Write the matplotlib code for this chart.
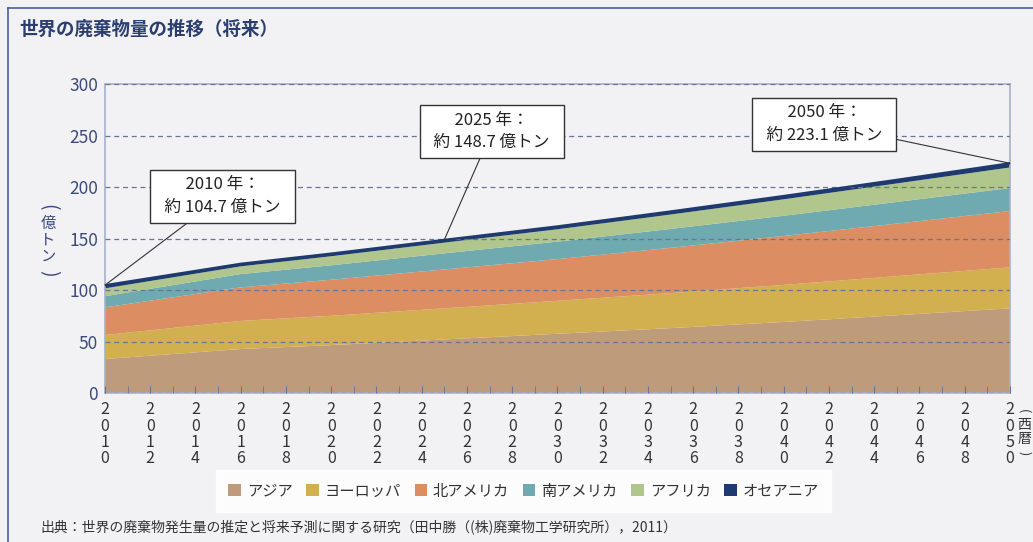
import matplotlib.pyplot as plt
from matplotlib.lines import Line2D

plt.rcParams['font.family'] = ['Noto Sans CJK JP', 'DejaVu Sans']

# data (億トン)
years = [2010, 2016, 2020, 2025, 2030, 2035, 2040, 2045, 2050]
asia = [33.0, 42.7, 46.5, 52.0, 57.5, 63.0, 69.0, 75.5, 82.2]
europe = [23.3, 27.3, 28.5, 30.2, 32.0, 34.0, 36.0, 38.0, 39.8]
n_america = [26.9, 32.6, 35.0, 37.8, 40.5, 44.0, 47.5, 51.0, 54.7]
s_america = [10.8, 12.9, 14.0, 15.6, 17.0, 18.3, 19.6, 21.0, 22.3]
africa = [7.6, 7.5, 8.8, 10.4, 12.0, 14.0, 16.0, 18.0, 20.0]
oceania = [3.1, 2.5, 2.6, 2.7, 2.8, 3.0, 3.2, 3.5, 4.1]

series_names = ['アジア', 'ヨーロッパ', '北アメリカ', '南アメリカ', 'アフリカ', 'オセアニア']
colors = ['#be9b7a', '#d2b050', '#dc8e62', '#6eaaaf', '#b0c68c', '#1e3a6e']

notes = [(2010, '2010 年：', '約 104.7 億トン', (2015.2, 191)),
         (2025, '2025 年：', '約 148.7 億トン', (2027.1, 254)),
         (2050, '2050 年：', '約 223.1 億トン', (2041.8, 261))]

bg = '#f2f2f5'
fig = plt.figure(figsize=(10.33, 5.42), dpi=100, facecolor=bg)
ax = fig.add_axes([0.1016, 0.2749, 0.876, 0.570], facecolor=bg)

stacks = ax.stackplot(years, asia, europe, n_america, s_america, africa, oceania,
                      colors=colors, labels=series_names, linewidth=0, zorder=2)
total = [sum(v) for v in zip(asia, europe, n_america, s_america, africa, oceania)]
ax.plot(years, total, color=colors[5], lw=1.6, zorder=3)

ax.set_xlim(2010, 2050)
ax.set_ylim(0, 300)
ax.set_yticks(range(0, 301, 50))
ax.yaxis.grid(True, ls=(0, (4, 3)), color='#6a7496', lw=0.9, zorder=4)
ax.set_axisbelow(False)
ax.tick_params(axis='y', length=0, pad=5, labelsize=12.5, labelcolor='#3c4a7a')

ax.set_xticks(range(2010, 2051, 2))
ax.set_xticks(range(2010, 2051), minor=True)
ax.set_xticklabels(['\n'.join(str(y)) for y in range(2010, 2051, 2)],
                   fontsize=11.5, color='#333333', linespacing=0.95)
ax.tick_params(axis='x', which='both', direction='in', length=5,
               color='#6a7496', pad=6)

for s in ax.spines.values():
    s.set_color('#a8b0c8')
    s.set_linewidth(1.2)

for yr, l1, l2, pos in notes:
    idx = years.index(yr)
    ax.annotate('  ' + l1 + '  \n  ' + l2 + '  ', xy=(yr, total[idx]), xytext=pos,
                ha='center', va='center', fontsize=12, color='#222222',
                linespacing=1.45, zorder=6,
                bbox=dict(boxstyle='square,pad=0.4', fc='white', ec='#333333', lw=1),
                arrowprops=dict(arrowstyle='-', color='#333333', lw=0.8,
                                shrinkA=0, shrinkB=0), annotation_clip=False)


# vertical (tategaki) captions, one character per position
def tategaki(x, y_top, chars, step, color, size, paren_size):
    for i, ch in enumerate(chars):
        y = y_top - i * step
        if ch in '()':
            fig.text(x, y, ch, rotation=-90, ha='center', va='center',
                     fontsize=paren_size, color=color)
        else:
            fig.text(x, y, ch, ha='center', va='center', fontsize=size, color=color)


tategaki(48 / 1033, 1 - 207 / 542, ['(', '億', 'ト', 'ン', ')'],
         16.5 / 542, '#3c4a7a', 11, 14)
tategaki(1024 / 1033, 1 - 411 / 542, ['(', '西', '暦', ')'],
         14 / 542, '#333333', 10, 9)

fig.text(0.019, 0.945, '世界の廃棄物量の推移（将来）', fontsize=13.3,
         fontweight='bold', color='#2c3e6e', va='center')

leg = fig.legend(stacks, series_names, loc='center', bbox_to_anchor=(0.507, 0.094),
                 ncol=6, frameon=True, fontsize=11, handlelength=0.8, handleheight=0.8,
                 handletextpad=0.4, columnspacing=0.9, borderpad=0.5)
leg.get_frame().set_facecolor('white')
leg.get_frame().set_edgecolor('white')
leg.get_frame().set_boxstyle('square')
for t in leg.get_texts():
    t.set_color('#333333')

fig.text(0.039, 0.028, '出典：世界の廃棄物発生量の推定と将来予測に関する研究（田中勝（(株)廃棄物工学研究所），2011）',
         fontsize=10, color='#333333', va='center')

# outer frame lines
fig.add_artist(Line2D([0.008, 0.008], [0, 0.985], color='#4a5f99', lw=1.2))
fig.add_artist(Line2D([0.008, 1], [0.985, 0.985], color='#4a5f99', lw=1.2))

fig.savefig('out.png', dpi=100, facecolor=bg)
